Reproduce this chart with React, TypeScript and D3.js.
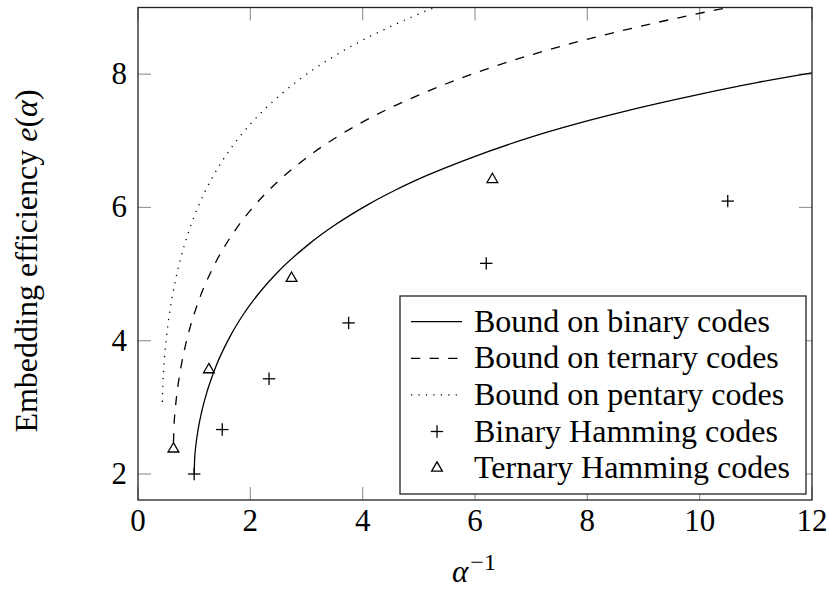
import React from "react";
import * as d3 from "d3";

// Bound curves: [alpha^-1, e(alpha)] samples
const binaryBoundX = [1.0, 1.0073, 1.03, 1.0706, 1.1347, 1.2326, 1.3852, 1.64, 1.889, 2.132, 2.486, 3.054, 3.492, 4.127, 4.568, 5.144, 5.931, 7.067, 8.048, 8.899, 9.992, 11.04, 12.0];
const binaryBoundY = [2.0, 2.206, 2.4275, 2.669, 2.938, 3.245, 3.61, 4.065, 4.412, 4.69, 5.028, 5.457, 5.728, 6.058, 6.254, 6.48, 6.745, 7.073, 7.309, 7.491, 7.698, 7.877, 8.02];

const ternaryBoundX = [0.6318, 0.6365, 0.6667, 0.6931, 0.7294, 0.7788, 0.8465, 0.9422, 1.0847, 1.316, 1.54, 1.757, 2.074, 2.581, 2.973, 3.542, 3.939, 4.456, 5.165, 6.192, 7.08, 7.851, 8.843, 9.796, 10.572, 11.2];
const ternaryBoundY = [2.473, 2.618, 3.0, 3.206, 3.4275, 3.669, 3.938, 4.245, 4.61, 5.065, 5.412, 5.69, 6.028, 6.457, 6.728, 7.058, 7.254, 7.48, 7.745, 8.073, 8.309, 8.491, 8.698, 8.877, 9.008, 9.09];

const pentaryBoundX = [0.4327, 0.4383, 0.4606, 0.5, 0.5647, 0.6751, 0.7626, 0.8913, 1.099, 1.3, 1.495, 1.779, 2.235, 2.588, 3.103, 3.461, 3.931, 4.575, 5.29, 5.8];
const pentaryBoundY = [3.082, 3.259, 3.618, 4.0, 4.4275, 4.938, 5.245, 5.61, 6.065, 6.412, 6.69, 7.028, 7.457, 7.728, 8.058, 8.254, 8.48, 8.745, 9.001, 9.15];

// Hamming codes
const binaryHammingX = [1.0, 1.5, 2.333, 3.75, 6.2, 10.5];
const binaryHammingY = [2.0, 2.667, 3.429, 4.267, 5.161, 6.095];
const ternaryHammingX = [0.631, 1.262, 2.734, 6.309];
const ternaryHammingY = [2.377, 3.566, 4.938, 6.42];

const xTicks = [0, 2, 4, 6, 8, 10, 12];
const yTicks = [2, 4, 6, 8];

const legendLabels = [
  "Bound on binary codes",
  "Bound on ternary codes",
  "Bound on pentary codes",
  "Binary Hamming codes",
  "Ternary Hamming codes",
];

const W = 829;
const H = 590;
const L = 138;
const R = 812;
const T = 7.5;
const B = 500;
const FONT = "Liberation Serif";
const FS = 31;

const zip = (xs: number[], ys: number[]) => xs.map((x, i) => [x, ys[i]] as [number, number]);

export default function App() {
  const x = d3.scaleLinear().domain([0, 12]).range([L, R]);
  const y = d3.scaleLinear().domain([1.61, 9]).range([B, T]);
  const line = d3
    .line<[number, number]>()
    .x((d) => x(d[0]))
    .y((d) => y(d[1]))
    .curve(d3.curveMonotoneX);

  const curves = [
    { d: line(zip(binaryBoundX, binaryBoundY)) || "", dash: undefined as string | undefined },
    { d: line(zip(ternaryBoundX, ternaryBoundY)) || "", dash: "9.3 9.3" },
    { d: line(zip(pentaryBoundX, pentaryBoundY)) || "", dash: "1.25 6.2" },
  ];

  const plus = (cx: number, cy: number, key: string) => (
    <g key={key} stroke="#000" strokeWidth={1.3}>
      <line x1={cx - 6.2} x2={cx + 6.2} y1={cy} y2={cy} />
      <line x1={cx} x2={cx} y1={cy - 6.2} y2={cy + 6.2} />
    </g>
  );
  const tri = (cx: number, cy: number, key: string) => {
    const r = 6.2;
    const pts = [
      [cx, cy - r],
      [cx + r * 0.866, cy + r * 0.5],
      [cx - r * 0.866, cy + r * 0.5],
    ]
      .map((p) => p.join(","))
      .join(" ");
    return <polygon key={key} points={pts} fill="#fff" stroke="#000" strokeWidth={1.3} />;
  };

  const legX = 400;
  const legY = 296;
  const legW = 406;
  const legH = 198;
  const rowY = (i: number) => legY + 25.7 + i * 36.6;
  const ts = { fontFamily: FONT };

  return (
    <svg
      width={W}
      height={H}
      style={{ position: "absolute", left: 0, top: 0, background: "#fff" }}
    >
      <defs>
        <clipPath id="plotclip">
          <rect x={L} y={T} width={R - L} height={B - T} />
        </clipPath>
      </defs>
      <rect x={0} y={0} width={W} height={H} fill="#fff" />

      {/* ticks */}
      {xTicks.map((t) => (
        <g key={"xt" + t} stroke="#999" strokeWidth={1.2}>
          <line x1={x(t)} x2={x(t)} y1={B} y2={B - 13} />
          <line x1={x(t)} x2={x(t)} y1={T} y2={T + 13} />
        </g>
      ))}
      {yTicks.map((t) => (
        <g key={"yt" + t} stroke="#999" strokeWidth={1.2}>
          <line x1={L} x2={L + 13} y1={y(t)} y2={y(t)} />
          <line x1={R} x2={R - 13} y1={y(t)} y2={y(t)} />
        </g>
      ))}

      {/* curves */}
      <g clipPath="url(#plotclip)">
        {curves.map((c, i) => (
          <path
            key={"c" + i}
            d={c.d}
            fill="none"
            stroke="#000"
            strokeWidth={1.3}
            strokeDasharray={c.dash}
          />
        ))}
      </g>

      {/* markers */}
      {binaryHammingX.map((v, i) => plus(x(v), y(binaryHammingY[i]), "bp" + i))}
      {ternaryHammingX.map((v, i) => tri(x(v), y(ternaryHammingY[i]), "tp" + i))}

      {/* frame */}
      <rect x={L} y={T} width={R - L} height={B - T} fill="none" stroke="#222" strokeWidth={1.3} />

      {/* tick labels */}
      {xTicks.map((t) => (
        <text key={"xl" + t} x={x(t)} y={531} textAnchor="middle" fontSize={FS} fill="#000" style={ts}>
          {t}
        </text>
      ))}
      {yTicks.map((t) => (
        <text key={"yl" + t} x={127} y={y(t) + 10} textAnchor="end" fontSize={FS} fill="#000" style={ts}>
          {t}
        </text>
      ))}

      {/* axis labels */}
      <text x={474} y={582} textAnchor="middle" fontSize={FS} fill="#000" style={ts}>
        <tspan fontStyle="italic">α</tspan>
        <tspan fontSize={24} dx={2} dy={-12}>−1</tspan>
      </text>
      <text
        transform={`translate(37, 261) rotate(-90)`}
        textAnchor="middle"
        fontSize={32}
        fill="#000"
        style={ts}
      >
        Embedding efficiency <tspan fontStyle="italic">e</tspan>(<tspan fontStyle="italic">α</tspan>)
      </text>

      {/* legend */}
      <rect x={legX} y={legY} width={legW} height={legH} fill="#fff" stroke="#222" strokeWidth={1.3} />
      {[0, 1, 2].map((i) => (
        <line
          key={"ll" + i}
          x1={411}
          x2={462}
          y1={rowY(i)}
          y2={rowY(i)}
          stroke="#000"
          strokeWidth={1.3}
          strokeDasharray={curves[i].dash}
        />
      ))}
      {plus(437, rowY(3), "lp")}
      {tri(437, rowY(4), "lt")}
      {legendLabels.map((lab, i) => (
        <text key={"lt" + i} x={474} y={rowY(i) + 10} fontSize={32} fill="#000" style={ts}>
          {lab}
        </text>
      ))}
    </svg>
  );
}
